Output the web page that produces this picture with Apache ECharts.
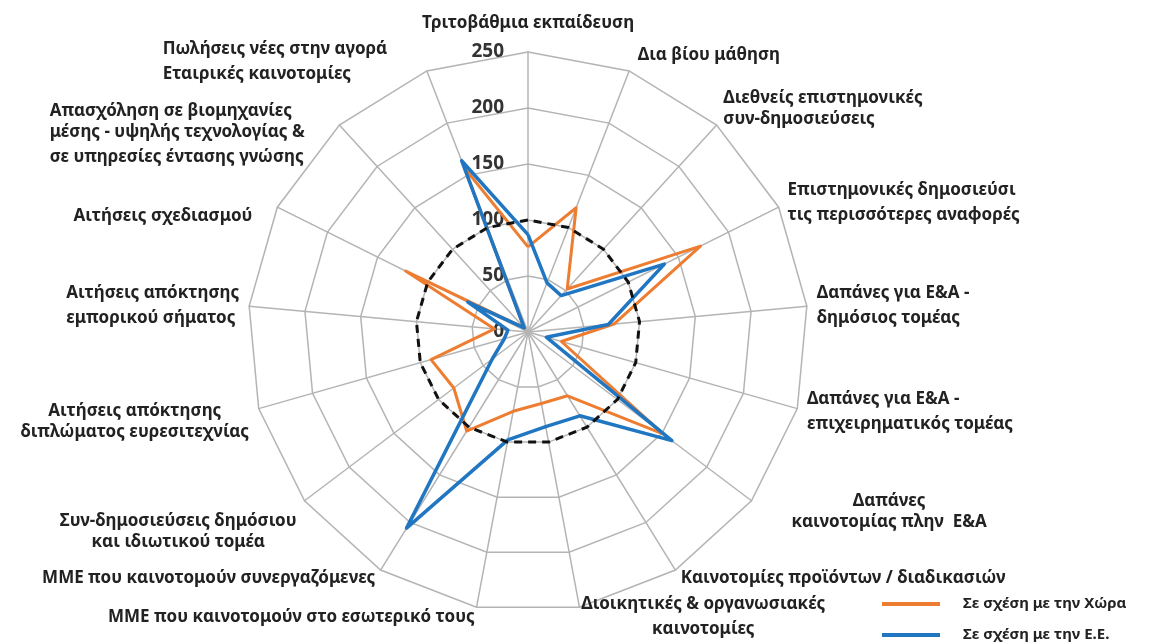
<!DOCTYPE html>
<html>
<head>
<meta charset="utf-8">
<title>Radar</title>
<script src="https://cdn.jsdelivr.net/npm/echarts@6.0.0/dist/echarts.min.js"></script>
<style>
  html, body { margin: 0; padding: 0; background: #fff; }
  #box { width: 1157px; height: 644px; }
</style>
</head>
<body>
<div id="box"></div>
<script>
// axis names, clockwise from the top (as in the picture)
const categories = [
  'Τριτοβάθμια εκπαίδευση',
  'Δια βίου μάθηση',
  'Διεθνείς επιστημονικές\nσυν-δημοσιεύσεις',
  'Επιστημονικές δημοσιεύσι\nτις περισσότερες αναφορές',
  'Δαπάνες για Ε&Α -\nδημόσιος τομέας',
  'Δαπάνες για Ε&Α -\nεπιχειρηματικός τομέας',
  'Δαπάνες\nκαινοτομίας πλην  Ε&Α',
  'Καινοτομίες προϊόντων / διαδικασιών',
  'Διοικητικές & οργανωσιακές\nκαινοτομίες',
  'ΜΜΕ που καινοτομούν στο εσωτερικό τους',
  'ΜΜΕ που καινοτομούν συνεργαζόμενες',
  'Συν-δημοσιεύσεις δημόσιου\nκαι ιδιωτικού τομέα',
  'Αιτήσεις απόκτησης\nδιπλώματος ευρεσιτεχνίας',
  'Αιτήσεις απόκτησης\nεμπορικού σήματος',
  'Αιτήσεις σχεδιασμού',
  'Απασχόληση σε βιομηχανίες\nμέσης - υψηλής τεχνολογίας &\nσε υπηρεσίες έντασης γνώσης',
  'Πωλήσεις νέες στην αγορά\nΕταιρικές καινοτομίες'
];

const countryName = 'Σε σχέση με την Χώρα';
const euName = 'Σε σχέση με την Ε.Ε.';

const countryValues = [76, 119, 52, 172, 77, 31, 151, 67, 65, 72, 104, 83, 90, 30, 122, 5, 157];
const euValues      = [87, 47, 44, 136, 72, 17, 161, 88, 86, 98, 206, 40, 22, 18, 60, 5, 164];
const baseline      = [100, 100, 100, 100, 100, 100, 100, 100, 100, 100, 100, 100, 100, 100, 100, 100, 100];

const ticks = [0, 50, 100, 150, 200, 250];

const ORANGE = '#ED7D31';
const BLUE = '#2176C2';
const GRID = '#b4b4b4';
const TEXT = '#222';
const FONT = 'Noto Sans';
const LINE_H = 25;

// label nudges so the names sit where the original put them
// (left/right = padding in px, dy = shift down, align = line alignment)
const nameTweaks = {
  0: { dy: -1 },
  1: { dy: -2, left: 5 },
  2: { dy: -7 },
  6: { dy: 3, left: 32, align: 'center' },
  8: { align: 'center' },
  11: { dy: 23, align: 'center' },
  12: { dy: 8, align: 'center' },
  14: { dy: 9, right: 16 },
  15: { dy: 14, right: 28 },
  16: { right: 36 }
};

const rich = {};
const formattedNames = {};
categories.forEach((name, idx) => {
  const t = nameTweaks[idx] || {};
  const lines = name.split('\n');
  formattedNames[name] = lines.map((line, k) => {
    const key = 't' + idx + '_' + k;
    const st = {
      padding: [0, t.right || 0, 0, t.left || 0],
      lineHeight: LINE_H,
      align: t.align || 'left'
    };
    if (t.dy > 0 && k === 0) {
      st.lineHeight = LINE_H + 2 * t.dy;
      st.verticalAlign = 'bottom';
    }
    if (t.dy < 0 && k === lines.length - 1) {
      st.lineHeight = LINE_H - 2 * t.dy;
      st.verticalAlign = 'top';
    }
    rich[key] = st;
    return '{' + key + '|' + line + '}';
  }).join('\n');
});

// echarts lays radar axes out counter-clockwise, the picture goes clockwise:
// keep the first axis on top and reverse the rest
function cw(arr) {
  return [arr[0]].concat(arr.slice(1).reverse());
}

const indicator = cw(categories).map((name, i) => {
  const ind = { name: name, min: ticks[0], max: ticks[ticks.length - 1] };
  if (i === 0) {
    // value labels only on the top spoke
    ind.axisLabel = {
      show: true,
      margin: 24,
      color: '#333',
      fontSize: 19,
      fontWeight: 'bold',
      fontFamily: FONT
    };
  }
  return ind;
});

const myChart = echarts.init(document.getElementById('box'));
const option = {
  animation: false,
  backgroundColor: '#fff',
  legend: {
    orient: 'vertical',
    left: 877,
    top: 590,
    height: 120,
    itemWidth: 58,
    itemHeight: 4,
    itemGap: 13,
    icon: 'rect',
    data: [countryName, euName],
    textStyle: {
      color: TEXT,
      fontSize: 15,
      lineHeight: 18,
      fontWeight: 'bold',
      fontFamily: FONT,
      padding: [0, 0, 0, 18]
    }
  },
  radar: {
    center: [528, 332],
    radius: 280,
    startAngle: 90,
    shape: 'polygon',
    splitNumber: ticks.length - 1,
    indicator: indicator,
    nameGap: 10,
    axisName: {
      color: TEXT,
      fontSize: 17,
      fontWeight: 'bold',
      fontFamily: FONT,
      lineHeight: LINE_H,
      rich: rich,
      formatter: function (name) {
        return formattedNames[name] || name;
      }
    },
    axisLine: { lineStyle: { color: GRID, width: 1.5 } },
    splitLine: { lineStyle: { color: GRID, width: 1.5 } },
    splitArea: { show: false },
    axisTick: { show: false },
    axisLabel: { show: false }
  },
  series: [{
    type: 'radar',
    symbol: 'none',
    silent: true,
    data: [
      {
        name: countryName,
        value: cw(countryValues),
        lineStyle: { color: ORANGE, width: 3 },
        itemStyle: { color: ORANGE }
      },
      {
        name: euName,
        value: cw(euValues),
        lineStyle: { color: BLUE, width: 3.5 },
        itemStyle: { color: BLUE }
      },
      {
        name: 'ΕΕ = 100',
        value: cw(baseline),
        lineStyle: { color: '#111', width: 3, type: [8, 6] },
        itemStyle: { color: '#111' }
      }
    ]
  }]
};
myChart.setOption(option);
</script>
</body>
</html>
